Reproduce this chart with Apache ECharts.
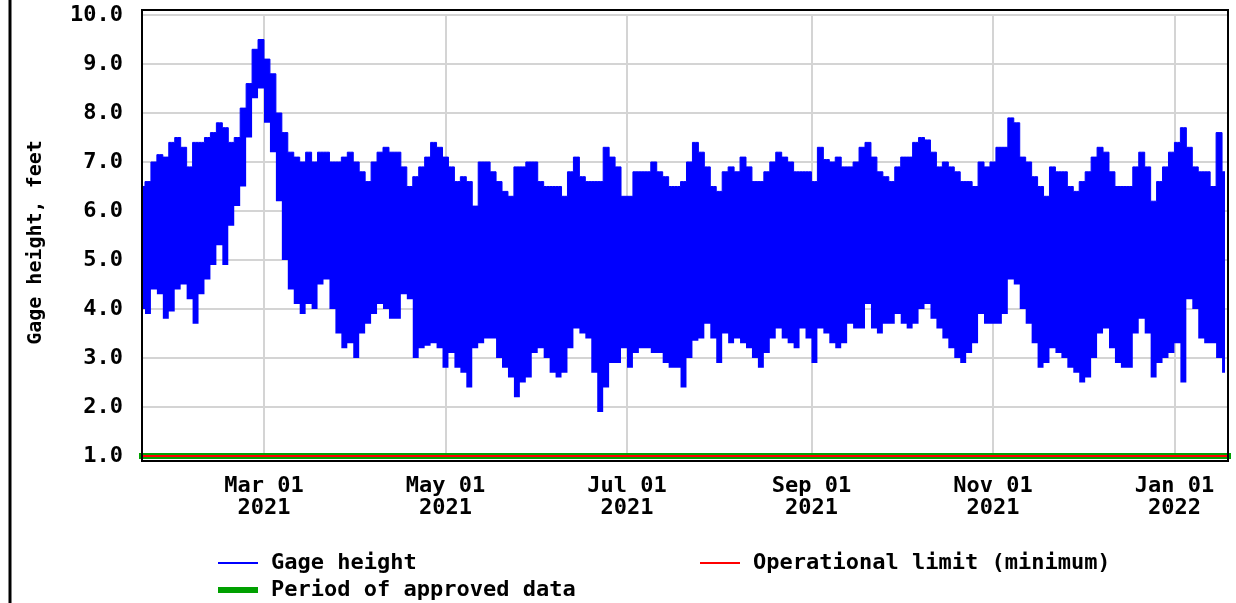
<!DOCTYPE html>
<html lang="en">
<head>
<meta charset="UTF-8">
<title>Gage height, feet</title>
<script src="https://cdn.jsdelivr.net/npm/echarts@6.0.0/dist/echarts.min.js"></script>
<style>body{margin:0;background:#fff}</style>
</head>
<body>
<div id="main" style="width:1236px;height:603px;"></div>
<script>
// window of the plot
const startDate = '2021-01-19';
const endDate = '2022-01-19';
const stepDays = 2;

// gage height envelope, one value per 2 days
const gageHigh = [
  6.5, 6.6, 7.0, 7.15, 7.1, 7.4, 7.5, 7.3, 6.9, 7.4,
  7.4, 7.5, 7.6, 7.8, 7.7, 7.4, 7.5, 8.1, 8.6, 9.3,
  9.5, 9.1, 8.8, 8.0, 7.6, 7.2, 7.1, 7.0, 7.2, 7.0,
  7.2, 7.2, 7.0, 7.0, 7.1, 7.2, 7.0, 6.8, 6.6, 7.0,
  7.2, 7.3, 7.2, 7.2, 6.9, 6.5, 6.7, 6.9, 7.1, 7.4,
  7.3, 7.1, 6.9, 6.6, 6.7, 6.6, 6.1, 7.0, 7.0, 6.8,
  6.6, 6.4, 6.3, 6.9, 6.9, 7.0, 7.0, 6.6, 6.5, 6.5,
  6.5, 6.3, 6.8, 7.1, 6.7, 6.6, 6.6, 6.6, 7.3, 7.1,
  6.9, 6.3, 6.3, 6.8, 6.8, 6.8, 7.0, 6.8, 6.7, 6.5,
  6.5, 6.6, 7.0, 7.4, 7.2, 6.9, 6.5, 6.4, 6.8, 6.9,
  6.8, 7.1, 6.9, 6.6, 6.6, 6.8, 7.0, 7.2, 7.1, 7.0,
  6.8, 6.8, 6.8, 6.6, 7.3, 7.05, 7.0, 7.1, 6.9, 6.9,
  7.0, 7.3, 7.4, 7.1, 6.8, 6.7, 6.6, 6.9, 7.1, 7.1,
  7.4, 7.5, 7.45, 7.2, 6.9, 7.0, 6.9, 6.8, 6.6, 6.6,
  6.5, 7.0, 6.9, 7.0, 7.3, 7.3, 7.9, 7.8, 7.1, 7.0,
  6.7, 6.5, 6.3, 6.9, 6.8, 6.8, 6.5, 6.4, 6.6, 6.8,
  7.1, 7.3, 7.2, 6.8, 6.5, 6.5, 6.5, 6.9, 7.2, 6.9,
  6.2, 6.6, 6.9, 7.2, 7.4, 7.7, 7.3, 6.9, 6.8, 6.8,
  6.5, 7.6, 6.8
];
const gageLow = [
  4.0, 3.9, 4.4, 4.3, 3.8, 3.95, 4.4, 4.5, 4.2, 3.7,
  4.3, 4.6, 4.9, 5.3, 4.9, 5.7, 6.1, 6.5, 7.5, 8.3,
  8.5, 7.8, 7.2, 6.2, 5.0, 4.4, 4.1, 3.9, 4.1, 4.0,
  4.5, 4.6, 4.0, 3.5, 3.2, 3.3, 3.0, 3.5, 3.7, 3.9,
  4.1, 4.0, 3.8, 3.8, 4.3, 4.2, 3.0, 3.2, 3.25, 3.3,
  3.2, 2.8, 3.1, 2.8, 2.7, 2.4, 3.2, 3.3, 3.4, 3.4,
  3.0, 2.8, 2.6, 2.2, 2.5, 2.6, 3.1, 3.2, 3.0, 2.7,
  2.6, 2.7, 3.2, 3.6, 3.5, 3.4, 2.7, 1.9, 2.4, 2.9,
  2.9, 3.2, 2.8, 3.1, 3.2, 3.2, 3.1, 3.1, 2.9, 2.8,
  2.8, 2.4, 3.0, 3.35, 3.4, 3.7, 3.4, 2.9, 3.5, 3.3,
  3.4, 3.3, 3.2, 3.0, 2.8, 3.1, 3.4, 3.6, 3.4, 3.3,
  3.2, 3.6, 3.4, 2.9, 3.6, 3.5, 3.3, 3.2, 3.3, 3.7,
  3.6, 3.6, 4.1, 3.6, 3.5, 3.7, 3.7, 3.9, 3.7, 3.6,
  3.7, 4.0, 4.1, 3.8, 3.6, 3.4, 3.2, 3.0, 2.9, 3.1,
  3.3, 3.9, 3.7, 3.7, 3.7, 3.9, 4.6, 4.5, 4.0, 3.7,
  3.3, 2.8, 2.9, 3.2, 3.1, 3.0, 2.8, 2.7, 2.5, 2.6,
  3.0, 3.5, 3.6, 3.2, 2.9, 2.8, 2.8, 3.5, 3.8, 3.5,
  2.6, 2.9, 3.0, 3.1, 3.3, 2.5, 4.2, 4.0, 3.4, 3.3,
  3.3, 3.0, 2.7
];

const operationalLimit = 1.0;
const approvedLevel = 1.0;
const monthTicks = ['2021-03-01', '2021-05-01', '2021-07-01', '2021-09-01', '2021-11-01', '2022-01-01'];
const MONTHS = ['Jan', 'Feb', 'Mar', 'Apr', 'May', 'Jun', 'Jul', 'Aug', 'Sep', 'Oct', 'Nov', 'Dec'];

const DAY = 86400000;
function toTime(s) {
  const p = s.split('-');
  return Date.UTC(+p[0], +p[1] - 1, +p[2]);
}
const t0 = toTime(startDate);
const t1 = toTime(endDate);
const tickTimes = monthTicks.map(toTime);
const days = gageHigh.map((h, i) => t0 + i * stepDays * DAY);
// band = low edge + (high - low) stacked on top of it
const lowData = days.map((t, i) => [t, gageLow[i]]);
const spanData = days.map((t, i) => [t, +(gageHigh[i] - gageLow[i]).toFixed(2)]);

const font = { fontFamily: 'DejaVu Sans Mono', fontWeight: 'bold', color: '#000' };
const gridColor = '#d4d4d4';
const blue = '#0000ff';
const legendText = { fontSize: 22, padding: [0, 0, 0, 8], ...font };

var chart = echarts.init(document.getElementById('main'));

var option = {
  animation: false,
  grid: { left: 142, right: 8, top: 15, bottom: 147, outerBoundsMode: 'none' },
  xAxis: [
    // time axis carries the data (stacking needs a time/category base axis)
    { type: 'time', min: t0, max: t1, show: false },
    // same range on a value axis, only for the month gridlines and labels
    {
      type: 'value',
      min: t0,
      max: t1,
      position: 'bottom',
      axisLine: { show: false },
      splitLine: { show: false },
      axisTick: {
        show: true, inside: true, length: 441, customValues: tickTimes,
        lineStyle: { color: gridColor, width: 2 }
      },
      axisLabel: {
        customValues: tickTimes,
        margin: 19,
        lineHeight: 22,
        fontSize: 22,
        ...font,
        formatter: function (v) {
          const d = new Date(v);
          return MONTHS[d.getUTCMonth()] + ' ' + String(d.getUTCDate()).padStart(2, '0') + '\n' + d.getUTCFullYear();
        }
      }
    }
  ],
  yAxis: {
    type: 'value',
    min: 1,
    max: 10,
    interval: 1,
    name: 'Gage height, feet',
    nameLocation: 'middle',
    nameGap: 96,
    nameTextStyle: { fontSize: 20, padding: [0, 14, 0, 0], ...font },
    axisLine: { show: false },
    axisTick: { show: false },
    axisLabel: { margin: 19, fontSize: 22, ...font, formatter: v => v.toFixed(1) },
    splitLine: { lineStyle: { color: gridColor, width: 2 } }
  },
  legend: [
    {
      data: [{ name: 'Gage height', icon: 'rect' }],
      left: 218, top: 552, padding: 0, itemWidth: 40, itemHeight: 2, selectedMode: false,
      textStyle: legendText
    },
    {
      data: [{ name: 'Operational limit (minimum)', icon: 'rect' }],
      left: 700, top: 552, padding: 0, itemWidth: 40, itemHeight: 2, selectedMode: false,
      textStyle: legendText
    },
    {
      data: [{ name: 'Period of approved data', icon: 'rect' }],
      left: 218, top: 579, padding: 0, itemWidth: 40, itemHeight: 6, selectedMode: false,
      textStyle: legendText
    }
  ],
  series: [
    {
      name: 'gage low edge',
      type: 'line',
      xAxisIndex: 0,
      stack: 'gage',
      step: 'middle',
      data: lowData,
      symbol: 'none',
      silent: true,
      lineStyle: { opacity: 0 },
      itemStyle: { color: blue }
    },
    {
      name: 'Gage height',
      type: 'line',
      xAxisIndex: 0,
      stack: 'gage',
      step: 'middle',
      data: spanData,
      symbol: 'none',
      silent: true,
      itemStyle: { color: blue },
      lineStyle: { color: blue, width: 1 },
      areaStyle: { color: blue, opacity: 1 }
    },
    {
      name: 'Period of approved data',
      type: 'line',
      xAxisIndex: 0,
      data: [[t0, approvedLevel], [t1, approvedLevel]],
      symbol: 'none',
      clip: false,
      silent: true,
      z: 3,
      itemStyle: { color: '#00a000' },
      lineStyle: { color: '#00a000', width: 6, cap: 'square' }
    },
    {
      name: 'Operational limit (minimum)',
      type: 'line',
      xAxisIndex: 0,
      data: [[t0, operationalLimit], [t1, operationalLimit]],
      symbol: 'none',
      clip: false,
      silent: true,
      z: 4,
      itemStyle: { color: '#ff0000' },
      lineStyle: { color: '#ff0000', width: 2 }
    }
  ],
  graphic: [
    {
      type: 'rect', silent: true, z: 100,
      shape: { x: 142, y: 10, width: 1086, height: 451 },
      style: { fill: null, stroke: '#000', lineWidth: 2 }
    },
    {
      type: 'line', silent: true, z: 100,
      shape: { x1: 10, y1: 0, x2: 10, y2: 603 },
      style: { stroke: '#000', lineWidth: 3 }
    }
  ]
};

chart.setOption(option);
</script>
</body>
</html>
